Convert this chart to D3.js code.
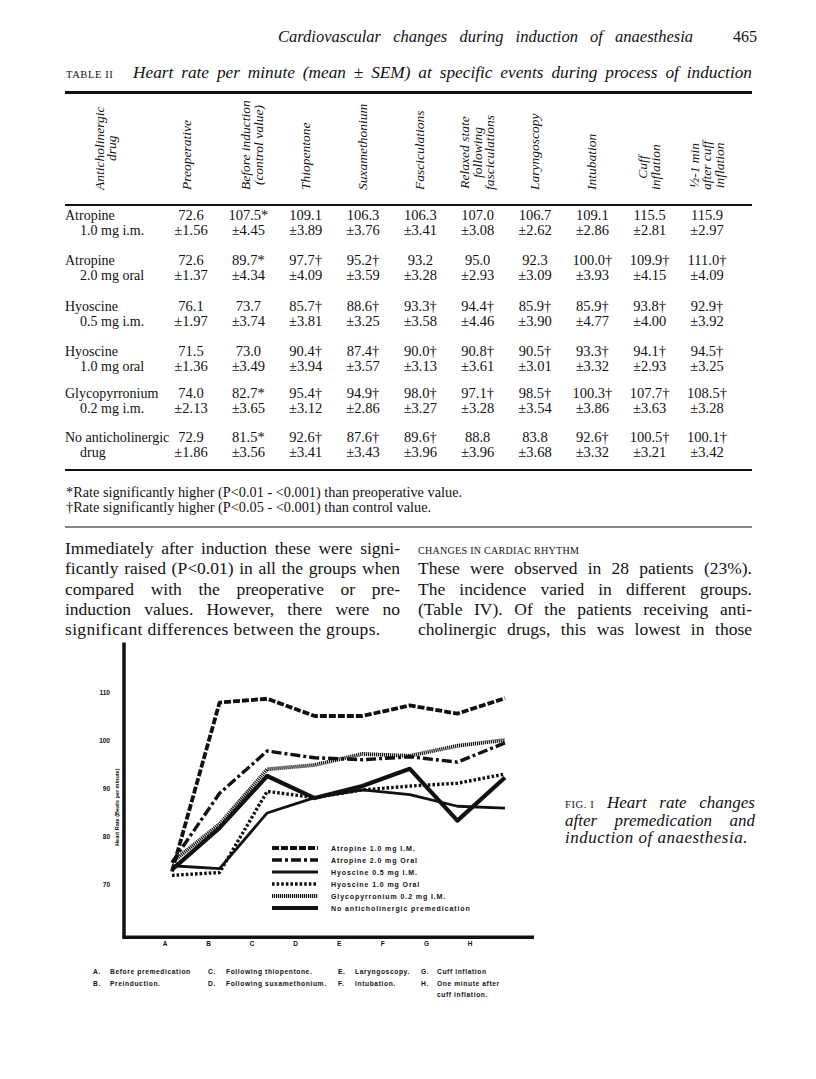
<!DOCTYPE html>
<html>
<head>
<meta charset="utf-8">
<script src="https://cdn.jsdelivr.net/npm/d3@7"></script>
<style>
  body { margin: 0; background: #fff; }
  svg { display: block; }
</style>
</head>
<body>
<svg id="page" width="816" height="1079"></svg>
<script>
// ---- table data ----
const colHeads = [
  ["Preoperative"], ["Before induction", "(control value)"], ["Thiopentone"], ["Suxamethonium"],
  ["Fasciculations"], ["Relaxed state", "following", "fasciculations"], ["Laryngoscopy"],
  ["Intubation"], ["Cuff", "inflation"], ["\u00bd-1 min", "after cuff", "inflation"]
];
const drugs = ["Atropine", "Atropine", "Hyoscine", "Hyoscine", "Glycopyrronium", "No anticholinergic"];
const doses = ["1.0 mg i.m.", "2.0 mg oral", "0.5 mg i.m.", "1.0 mg oral", "0.2 mg i.m.", "drug"];
const means = [
  ["72.6", "107.5*", "109.1", "106.3", "106.3", "107.0", "106.7", "109.1", "115.5", "115.9"],
  ["72.6", "89.7*", "97.7\u2020", "95.2\u2020", "93.2", "95.0", "92.3", "100.0\u2020", "109.9\u2020", "111.0\u2020"],
  ["76.1", "73.7", "85.7\u2020", "88.6\u2020", "93.3\u2020", "94.4\u2020", "85.9\u2020", "85.9\u2020", "93.8\u2020", "92.9\u2020"],
  ["71.5", "73.0", "90.4\u2020", "87.4\u2020", "90.0\u2020", "90.8\u2020", "90.5\u2020", "93.3\u2020", "94.1\u2020", "94.5\u2020"],
  ["74.0", "82.7*", "95.4\u2020", "94.9\u2020", "98.0\u2020", "97.1\u2020", "98.5\u2020", "100.3\u2020", "107.7\u2020", "108.5\u2020"],
  ["72.9", "81.5*", "92.6\u2020", "87.6\u2020", "89.6\u2020", "88.8", "83.8", "92.6\u2020", "100.5\u2020", "100.1\u2020"]
];
const sems = [
  ["1.56", "4.45", "3.89", "3.76", "3.41", "3.08", "2.62", "2.86", "2.81", "2.97"],
  ["1.37", "4.34", "4.09", "3.59", "3.28", "2.93", "3.09", "3.93", "4.15", "4.09"],
  ["1.97", "3.74", "3.81", "3.25", "3.58", "4.46", "3.90", "4.77", "4.00", "3.92"],
  ["1.36", "3.49", "3.94", "3.57", "3.13", "3.61", "3.01", "3.32", "2.93", "3.25"],
  ["2.13", "3.65", "3.12", "2.86", "3.27", "3.28", "3.54", "3.86", "3.63", "3.28"],
  ["1.86", "3.56", "3.41", "3.43", "3.96", "3.96", "3.68", "3.32", "3.21", "3.42"]
];

// ---- figure data ----
const events = ["A", "B", "C", "D", "E", "F", "G", "H"];
const yTicks = [70, 80, 90, 100, 110];
const atropine1 = [72.6, 107.8, 108.6, 105.0, 105.0, 107.2, 105.5, 108.7];
const atropine2 = [74.5, 88.9, 97.7, 96.3, 95.9, 96.5, 95.4, 99.4];
const hyoscine05 = [73.8, 73.2, 84.8, 88.0, 89.6, 88.6, 86.2, 85.8];
const hyoscine1 = [71.8, 72.4, 89.3, 88.0, 89.6, 90.4, 91.0, 92.9];
const glyco = [74.5, 82.5, 93.9, 94.8, 97.1, 96.7, 98.8, 100.0];
const noDrug = [73.0, 81.7, 92.5, 87.9, 90.4, 94.0, 83.2, 92.2];
const seriesNames = ["Atropine 1.0 mg I.M.", "Atropine 2.0 mg Oral", "Hyoscine 0.5 mg I.M.",
  "Hyoscine 1.0 mg Oral", "Glycopyrronium 0.2 mg I.M.", "No anticholinergic premedication"];
const eventKey = [
  ["A.", "Before premedication"], ["B.", "Preinduction."],
  ["C.", "Following thiopentone."], ["D.", "Following suxamethonium."],
  ["E.", "Laryngoscopy."], ["F.", "Intubation."],
  ["G.", "Cuff inflation"], ["H.", "One minute after", "cuff inflation."]
];

const serif = "'Liberation Serif', 'Times New Roman', serif";
const type = "'Liberation Sans', Arial, sans-serif";
const svg = d3.select("#page");
svg.append("rect").attr("width", 816).attr("height", 1079).attr("fill", "#fff");

function line(x1, y1, x2, y2, w) {
  svg.append("line").attr("x1", x1).attr("y1", y1).attr("x2", x2).attr("y2", y2)
    .attr("stroke", "#111").attr("stroke-width", w);
}
function txt(x, y, s, opts = {}) {
  const t = svg.append("text").attr("x", x).attr("y", y).text(s)
    .attr("font-family", opts.family || serif)
    .attr("font-size", opts.size || 15)
    .attr("fill", "#111");
  if (opts.italic) t.attr("font-style", "italic");
  if (opts.bold) t.attr("font-weight", "bold");
  if (opts.anchor) t.attr("text-anchor", opts.anchor);
  if (opts.spacing) t.attr("letter-spacing", opts.spacing);
  if (opts.width) {
    // justify by widening the word gaps, like the typeset page
    const w = t.node().getComputedTextLength();
    const gaps = (s.match(/ +/g) || []).length;
    if (gaps) t.attr("word-spacing", (opts.width - w) / gaps);
  }
  return t;
}

// running head
txt(278, 42, "Cardiovascular changes during induction of anaesthesia", {italic: true, size: 16.5, width: 415});
txt(733, 42, "465", {size: 16});

// table title
txt(66, 78, "TABLE II", {size: 10.5, spacing: 0.6});
txt(133, 78, "Heart rate per minute (mean \u00b1 SEM) at specific events during process of induction", {italic: true, size: 17.3, width: 619});
line(65, 92.5, 752, 92.5, 3);

// column headers
const col = d3.scalePoint().domain(d3.range(10)).range([191, 707]);
function rotHead(cx, lines) {
  const g = svg.append("g");
  const lh = 12.5;
  const widths = [];
  lines.forEach(s => {
    const t = g.append("text").text(s)
      .attr("font-family", serif).attr("font-style", "italic").attr("font-size", 13.5)
      .attr("fill", "#111").attr("text-anchor", "middle");
    widths.push(t.node().getComputedTextLength());
  });
  const mid = 190 - d3.max(widths) / 2;
  const x0 = cx + 4 - (lines.length - 1) * lh / 2;
  g.selectAll("text").attr("transform", (d, i) => `translate(${x0 + i * lh},${mid}) rotate(-90)`);
}
rotHead(106, ["Anticholinergic", "drug"]);
colHeads.forEach((h, i) => rotHead(col(i) - (i === 0 ? 4 : 0) + (i === 1 ? 4 : 0), h));
line(65, 205, 752, 205, 2);

// table body
const rowY = [220, 265, 311, 356, 398, 442];
drugs.forEach((d, r) => {
  const y = rowY[r];
  txt(65, y, d, {size: 14});
  txt(80, y + 15, doses[r], {size: 14});
  means[r].forEach((m, c) => {
    txt(col(c), y, m, {size: 14.5, anchor: "middle"});
    txt(col(c), y + 15, "\u00b1" + sems[r][c], {size: 14.5, anchor: "middle"});
  });
});
line(65, 470, 752, 470, 2);

txt(66, 497, "*Rate significantly higher (P<0.01 - <0.001) than preoperative value.", {size: 14.3});
txt(66, 512, "\u2020Rate significantly higher (P<0.05 - <0.001) than control value.", {size: 14.3});
line(65, 527, 752, 527, 1);

// body text, two columns
const leftLines = [
  "Immediately after induction these were signi-",
  "ficantly raised (P<0.01) in all the groups when",
  "compared with the preoperative or pre-",
  "induction values.  However, there were no",
  "significant differences between the groups."
];
const rightLines = [
  "These were observed in 28 patients (23%).",
  "The incidence varied in different groups.",
  "(Table IV).  Of the patients receiving anti-",
  "cholinergic drugs, this was lowest in those"
];
const bodyY = [554, 574, 595, 615, 635];
leftLines.forEach((s, i) => txt(65, bodyY[i], s, {size: 17.5, width: i < 4 ? 335 : null, spacing: i < 4 ? null : 0.35}));
txt(418, bodyY[0], "CHANGES IN CARDIAC RHYTHM", {size: 10, spacing: 0.3});
rightLines.forEach((s, i) => txt(418, bodyY[i + 1], s, {size: 17.5, width: 334}));

// ---- figure ----
const x = d3.scalePoint().domain(events).range([172, 505]);
const xLab = d3.scalePoint().domain(events).range([165, 470]);
const y = d3.scaleLinear().domain([70, 110]).range([884, 692]);

line(124, y(120.3), 124, y(58.9), 3.5);
line(122.3, y(58.9), 534, y(58.9), 3.5);

yTicks.forEach(v => txt(110, y(v) + 2.5, v, {family: type, bold: true, size: 6.5, anchor: "end"}));
svg.append("text").attr("transform", `translate(119,${y(86)}) rotate(-90)`)
  .attr("text-anchor", "middle").attr("font-family", type).attr("font-weight", "bold")
  .attr("font-size", 5.5).attr("fill", "#111").text("Heart Rate (Beats per minute)");
events.forEach(e => txt(xLab(e), 946, e, {family: type, bold: true, size: 6.5, anchor: "middle"}));

const styles = [
  {w: 3.8, dash: "7,2"},
  {w: 3.4, dash: "10,3,3,3"},
  {w: 2.8, dash: null},
  {w: 3.4, dash: "2.6,2"},
  {w: 3.8, dash: "1.2,0.8"},
  {w: 4.2, dash: null}
];
const allSeries = [atropine1, atropine2, hyoscine05, hyoscine1, glyco, noDrug];
const path = d3.line().x((d, i) => x(events[i])).y(d => y(d));
allSeries.forEach((s, k) => {
  svg.append("path").attr("d", path(s)).attr("fill", "none").attr("stroke", "#111")
    .attr("stroke-width", styles[k].w).attr("stroke-dasharray", styles[k].dash)
    .attr("stroke-linejoin", "round");
});

// legend
const legY = [848, 860, 872, 884, 896, 908];
seriesNames.forEach((n, k) => {
  svg.append("line").attr("x1", 272).attr("x2", 318).attr("y1", legY[k]).attr("y2", legY[k])
    .attr("stroke", "#111").attr("stroke-width", styles[k].w).attr("stroke-dasharray", styles[k].dash);
  txt(331, legY[k] + 2.5, n, {family: type, bold: true, size: 7, spacing: 0.9});
});

// event key below the figure
const keyX = [[93, 110], [208, 226], [338, 355], [421, 437]];
eventKey.forEach((k, i) => {
  const c = Math.floor(i / 2), r = i % 2;
  const yy = 974 + r * 11.5;
  txt(keyX[c][0], yy, k[0], {family: type, bold: true, size: 6.7, spacing: 0.6});
  txt(keyX[c][1], yy, k[1], {family: type, bold: true, size: 6.7, spacing: 0.6});
  if (k[2]) txt(keyX[c][1], yy + 11.5, k[2], {family: type, bold: true, size: 6.7, spacing: 0.6});
});

// caption
txt(565, 808, "FIG. I", {size: 10.5, spacing: 0.6});
txt(607, 808, "Heart rate changes", {italic: true, size: 17, width: 148});
txt(565, 826, "after premedication and", {italic: true, size: 17, width: 190});
txt(565, 843, "induction of anaesthesia.", {italic: true, size: 17, spacing: 0.5});
</script>
</body>
</html>
